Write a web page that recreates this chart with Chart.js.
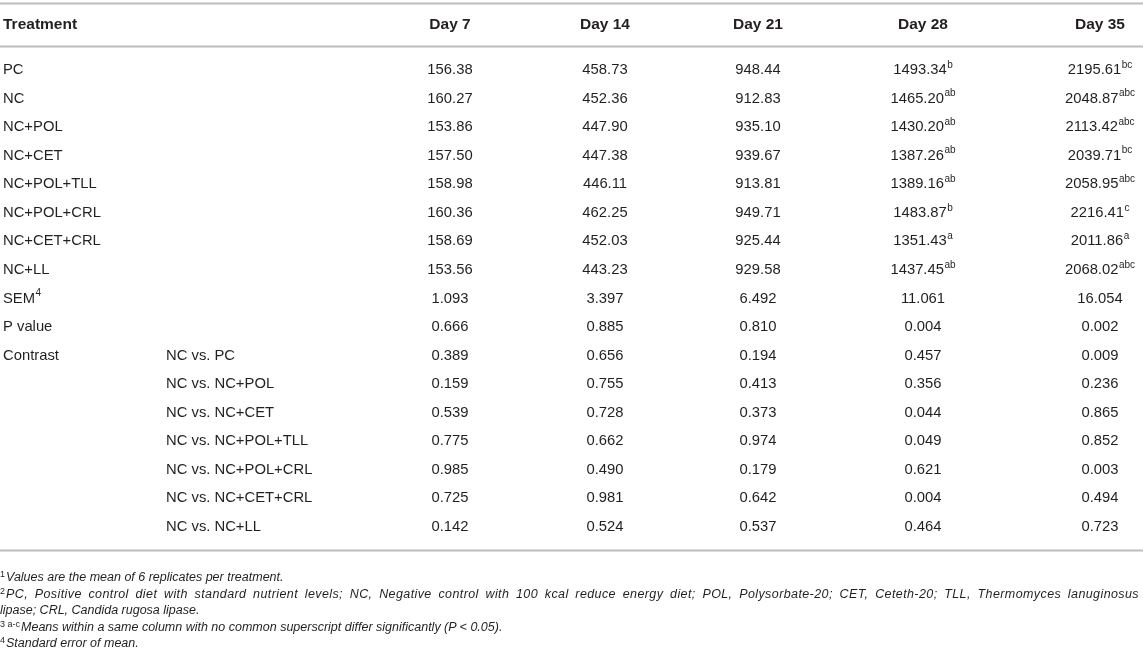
<!DOCTYPE html>
<html>
<head>
<meta charset="utf-8">
<script src="https://cdn.jsdelivr.net/npm/chart.js@4.4.1/dist/chart.umd.min.js"></script>
<style>
  html, body { margin: 0; padding: 0; background: #fff; }
  #wrap { position: relative; width: 1143px; height: 658px; }
  #notes {
    position: absolute; left: 0; top: 569px; width: 1139px;
    font-family: "Liberation Sans", Arial, Helvetica, sans-serif;
    font-size: 12.5px; font-style: italic; line-height: 16.5px; color: #231f20;
  }
  #notes div { white-space: nowrap; }
  #notes .just { text-align: justify; text-align-last: justify; white-space: normal; letter-spacing: 0.4px; }
  #notes sup { font-size: 9px; font-style: normal; vertical-align: 4px; line-height: 0; margin-right: 1px; letter-spacing: 0; }
</style>
</head>
<body>
<div id="wrap">
  <canvas id="table-chart"></canvas>
  <div id="notes">
    <div><sup>1</sup>Values are the mean of 6 replicates per treatment.</div>
    <div class="just"><sup>2</sup>PC, Positive control diet with standard nutrient levels; NC, Negative control with 100 kcal reduce energy diet; POL, Polysorbate-20; CET, Ceteth-20; TLL, Thermomyces lanuginosus</div>
    <div>lipase; CRL, Candida rugosa lipase.</div>
    <div><sup>3 a-c</sup>Means within a same column with no common superscript differ significantly (P &lt; 0.05).</div>
    <div><sup>4</sup>Standard error of mean.</div>
  </div>
</div>
<script>
// table data
const days = ['Day 7', 'Day 14', 'Day 21', 'Day 28', 'Day 35'];
const treatments = ['PC', 'NC', 'NC+POL', 'NC+CET', 'NC+POL+TLL', 'NC+POL+CRL', 'NC+CET+CRL', 'NC+LL'];

const day7 = [156.38, 160.27, 153.86, 157.50, 158.98, 160.36, 158.69, 153.56];
const day14 = [458.73, 452.36, 447.90, 447.38, 446.11, 462.25, 452.03, 443.23];
const day21 = [948.44, 912.83, 935.10, 939.67, 913.81, 949.71, 925.44, 929.58];
const day28 = [1493.34, 1465.20, 1430.20, 1387.26, 1389.16, 1483.87, 1351.43, 1437.45];
const day35 = [2195.61, 2048.87, 2113.42, 2039.71, 2058.95, 2216.41, 2011.86, 2068.02];
const sup28 = ['b', 'ab', 'ab', 'ab', 'ab', 'b', 'a', 'ab'];
const sup35 = ['bc', 'abc', 'abc', 'bc', 'abc', 'c', 'a', 'abc'];

const sem = [1.093, 3.397, 6.492, 11.061, 16.054];
const pValue = [0.666, 0.885, 0.810, 0.004, 0.002];

const contrasts = ['NC vs. PC', 'NC vs. NC+POL', 'NC vs. NC+CET', 'NC vs. NC+POL+TLL',
                   'NC vs. NC+POL+CRL', 'NC vs. NC+CET+CRL', 'NC vs. NC+LL'];
const contrastP = [
    [0.389, 0.656, 0.194, 0.457, 0.009],
    [0.159, 0.755, 0.413, 0.356, 0.236],
    [0.539, 0.728, 0.373, 0.044, 0.865],
    [0.775, 0.662, 0.974, 0.049, 0.852],
    [0.985, 0.490, 0.179, 0.621, 0.003],
    [0.725, 0.981, 0.642, 0.004, 0.494],
    [0.142, 0.524, 0.537, 0.464, 0.723]
];

// layout (x in px along the linear x scale, y in row units)
const colX = { label: 3, contrast: 166, days: [450, 605, 758, 923, 1100] };
const rowPitch = 28.56, firstRowPx = 70;
const headerRow = (25 - firstRowPx) / rowPitch;
const rules = [(3 - firstRowPx) / rowPitch, (46 - firstRowPx) / rowPitch, (550 - firstRowPx) / rowPitch];
const FONT = '"Liberation Sans", Arial, Helvetica, sans-serif';
const INK = '#231f20';

const dayValues = [day7, day14, day21, day28, day35];
const daySups = [null, null, null, sup28, sup35];

const rowLabels = treatments.concat(['SEM', 'P value', 'Contrast']);
const rowLabelSups = treatments.map(() => '').concat(['4', '', '']);

const datasets = [];
// header row
datasets.push({
    data: [{ x: colX.label, y: headerRow }].concat(colX.days.map(x => ({ x: x, y: headerRow }))),
    texts: ['Treatment'].concat(days), sups: [], aligns: ['left'].concat(days.map(() => 'center')), bold: true
});
// first column
datasets.push({
    data: rowLabels.map((t, i) => ({ x: colX.label, y: i })),
    texts: rowLabels, sups: rowLabelSups, aligns: rowLabels.map(() => 'left')
});
// contrast names
datasets.push({
    data: contrasts.map((t, i) => ({ x: colX.contrast, y: treatments.length + 2 + i })),
    texts: contrasts, sups: [], aligns: contrasts.map(() => 'left')
});
// day columns
days.forEach((d, k) => {
    const texts = dayValues[k].map(v => v.toFixed(2))
        .concat([sem[k].toFixed(3), pValue[k].toFixed(3)])
        .concat(contrastP.map(r => r[k].toFixed(3)));
    const sups = daySups[k] ? daySups[k].slice() : [];
    datasets.push({
        data: texts.map((t, i) => ({ x: colX.days[k], y: i })),
        texts: texts, sups: sups, aligns: texts.map(() => 'center')
    });
});

const tablePlugin = {
    id: 'tableText',
    beforeDatasetsDraw(chart) {
        const ctx = chart.ctx, y = chart.scales.y;
        ctx.save();
        ctx.strokeStyle = '#bdbdbd';
        ctx.lineWidth = 1.8;
        rules.forEach(r => {
            const py = Math.round(y.getPixelForValue(r)) + 0.5;
            ctx.beginPath();
            ctx.moveTo(chart.chartArea.left, py);
            ctx.lineTo(chart.chartArea.right, py);
            ctx.stroke();
        });
        ctx.restore();
    },
    afterDatasetsDraw(chart) {
        const ctx = chart.ctx;
        ctx.save();
        ctx.fillStyle = INK;
        ctx.textBaseline = 'middle';
        ctx.textAlign = 'left';
        chart.data.datasets.forEach((ds, i) => {
            const meta = chart.getDatasetMeta(i);
            const mainFont = ds.bold ? 'bold 15.5px ' + FONT : '14.8px ' + FONT;
            const supFont = '10px ' + FONT;
            meta.data.forEach((el, j) => {
                const txt = ds.texts[j], sup = ds.sups[j] || '';
                ctx.font = mainFont;
                const w1 = ctx.measureText(txt).width;
                ctx.font = supFont;
                const w2 = sup ? ctx.measureText(sup).width + 0.5 : 0;
                let x0 = el.x;
                if (ds.aligns[j] === 'center') x0 = el.x - (w1 + w2) / 2;
                ctx.font = mainFont;
                ctx.fillText(txt, x0, el.y);
                if (sup) {
                    ctx.font = supFont;
                    ctx.fillText(sup, x0 + w1 + 0.5, el.y - 5);
                }
            });
        });
        ctx.restore();
    }
};

new Chart(document.getElementById('table-chart'), {
    type: 'scatter',
    data: { datasets: datasets },
    options: {
        responsive: true,
        maintainAspectRatio: false,
        animation: false,
        events: [],
        layout: { padding: 0 },
        elements: { point: { radius: 0, hoverRadius: 0 } },
        plugins: { legend: { display: false }, tooltip: { enabled: false } },
        scales: {
            x: { type: 'linear', display: false, min: 0, max: 1143 },
            y: { type: 'linear', display: false, reverse: true,
                 min: -firstRowPx / rowPitch, max: (658 - firstRowPx) / rowPitch }
        }
    },
    plugins: [tablePlugin]
});
</script>
</body>
</html>
